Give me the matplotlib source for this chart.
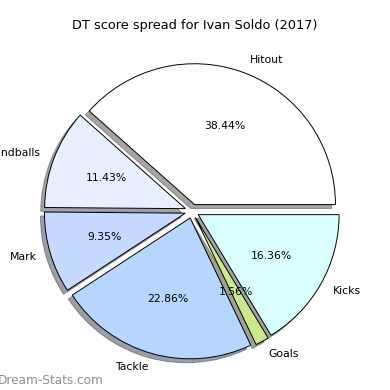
import matplotlib
matplotlib.use("Agg")
import matplotlib.pyplot as plt

# DT score spread (percent)
labels = ["Hitout", "Handballs", "Mark", "Tackle", "Goals", "Kicks"]
values = [38.44, 11.43, 9.35, 22.86, 1.56, 16.36]
colors = ["#ffffff", "#e8f0ff", "#c6d9ff", "#b6d6ff", "#cde88a", "#d9ffff"]
explode = [0.05] * len(values)

fig = plt.figure(figsize=(3.9, 3.9), dpi=100)
ax = fig.add_axes([0.041, 0.007, 0.903, 0.903])

ax.pie(values, labels=labels, colors=colors, explode=explode,
       autopct="%.2f%%", startangle=0, shadow=True,
       wedgeprops={"edgecolor": "black", "linewidth": 0.7},
       textprops={"fontsize": 7.8})
ax.set_aspect("equal")
ax.set_xlim(-1.25, 1.25)
ax.set_ylim(-1.25, 1.25)

fig.text(0.5, 0.935, "DT score spread for Ivan Soldo (2017)", ha="center",
         va="center", fontsize=9.3)
fig.text(-0.006, 0.025, "Dream-Stats.com", color="#909090", fontsize=8.7,
         ha="left", va="center")

fig.savefig("out.png", dpi=100)
